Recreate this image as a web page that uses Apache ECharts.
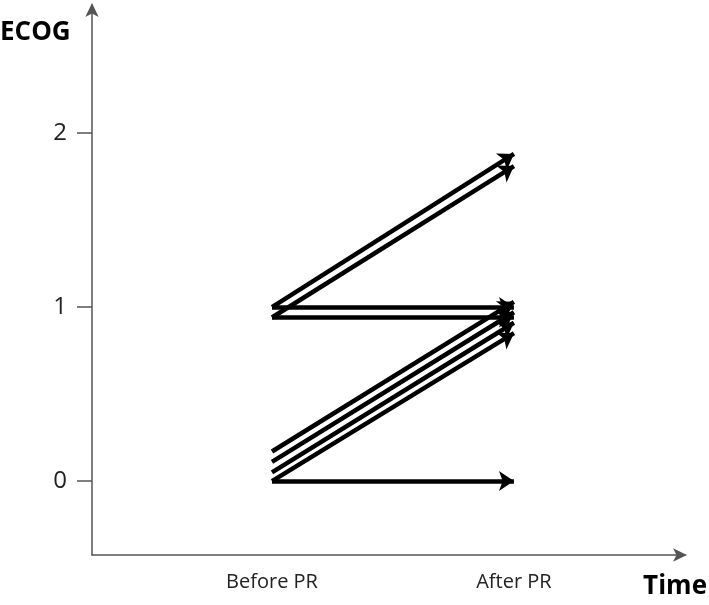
<!DOCTYPE html>
<html>
<head>
<meta charset="utf-8">
<script src="https://cdn.jsdelivr.net/npm/echarts@6/dist/echarts.min.js"></script>
<style>
  html, body { margin: 0; padding: 0; background: #fff; }
  #chart { width: 709px; height: 605px; }
</style>
</head>
<body>
<div id="chart"></div>
<script>
// time points on the x axis (Before PR = 1, After PR = 2)
var timeLabels = ['Before PR', 'After PR'];
var timeValues = [1, 2];
var yTicks = [0, 1, 2];

// ECOG per patient, slightly offset so the arrows do not overlap
var ecogBefore = [1.00, 0.94, 1.00, 0.94, 0.17, 0.11, 0.05, 0.00, 0.00];
var ecogAfter  = [1.88, 1.81, 1.00, 0.94, 1.03, 0.97, 0.91, 0.85, 0.00];

var lineData = [];
for (var i = 0; i < ecogBefore.length; i++) {
    lineData.push({
        coords: [[timeValues[0], ecogBefore[i]], [timeValues[1], ecogAfter[i]]]
    });
}

var FONT = '"Open Sans", "Noto Sans", sans-serif';
var AXIS_COLOR = '#555';

var chart = echarts.init(document.getElementById('chart'));
chart.setOption({
    animation: false,
    grid: { left: 92, right: 24, top: 5, bottom: 50, containLabel: false },
    xAxis: {
        type: 'value',
        min: 0.256,
        max: 2.707,
        splitLine: { show: false },
        axisLine: {
            show: true,
            onZero: false,
            lineStyle: { color: AXIS_COLOR, width: 1.5 },
            symbol: ['none', 'arrow'],
            symbolSize: [10, 14],
            symbolOffset: [0, 2]
        },
        axisTick: { show: false },
        axisLabel: {
            customValues: timeValues,
            formatter: function (v) {
                var idx = timeValues.indexOf(v);
                return idx >= 0 ? timeLabels[idx] : '';
            },
            color: '#222',
            fontFamily: FONT,
            fontSize: 20,
            margin: 17
        }
    },
    yAxis: {
        type: 'value',
        min: -0.425,
        max: 2.736,
        splitLine: { show: false },
        axisLine: {
            show: true,
            onZero: false,
            lineStyle: { color: AXIS_COLOR, width: 1.5 },
            symbol: ['none', 'arrow'],
            symbolSize: [10, 14],
            symbolOffset: [0, 2]
        },
        axisTick: {
            show: true,
            customValues: yTicks,
            length: 15,
            lineStyle: { color: AXIS_COLOR, width: 1.5 }
        },
        axisLabel: {
            customValues: yTicks,
            color: '#222',
            fontFamily: FONT,
            fontSize: 24,
            margin: 25
        }
    },
    graphic: [
        {
            type: 'text',
            left: 0,
            top: 20,
            style: { text: 'ECOG', font: 'bold 26px ' + FONT, fill: '#000' }
        },
        {
            type: 'text',
            right: 2,
            top: 574,
            style: { text: 'Time', font: 'bold 26px ' + FONT, fill: '#000' }
        }
    ],
    series: [{
        type: 'lines',
        coordinateSystem: 'cartesian2d',
        polyline: false,
        symbol: ['none', 'arrow'],
        symbolSize: 15,
        lineStyle: { color: '#000', width: 4.5, opacity: 1, curveness: 0 },
        data: lineData
    }]
});
</script>
</body>
</html>
